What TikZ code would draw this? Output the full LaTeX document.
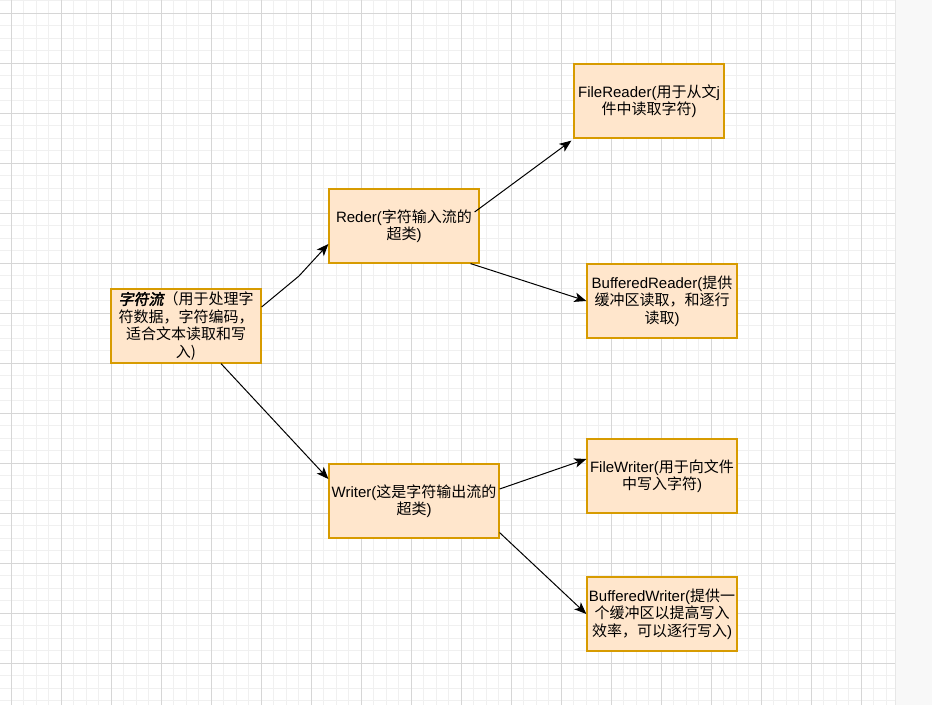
\documentclass[tikz,border=0pt]{standalone}
\usepackage{fontspec}
\setmainfont{Liberation Sans}
\newfontfamily\cjk{Noto Sans CJK SC}
\newfontfamily\cjkbi[FakeSlant=0.2,FakeBold=2.5]{Noto Sans CJK SC}
\usetikzlibrary{arrows.meta}
\definecolor{boxfill}{HTML}{FFE6CC}
\definecolor{boxline}{HTML}{D79B00}
\definecolor{gridminor}{HTML}{F0F0F0}
\definecolor{gridmajor}{HTML}{D6D6D6}
\definecolor{panelgray}{HTML}{F8F8F8}
\newcommand\zh[1]{{\cjk #1}}

\begin{document}
\begin{tikzpicture}[x=1pt, y=-1pt,
    classbox/.style={draw=boxline, fill=boxfill, line width=1.2pt, minimum width=150pt,
        minimum height=74pt, align=center, inner sep=2pt, font=\fontsize{15}{17.5}\selectfont},
    link/.style={line width=1pt, -{Stealth[length=12pt,width=9.5pt,inset=3pt]}}]
\useasboundingbox (0,0) rectangle (932,705);
% Background grid
\fill[white] (0,0) rectangle (895,705);
\foreach \x in {-1.5,11,...,895} {
    \draw[gridminor] (\x,0) -- (\x,705);
}
\foreach \y in {0.5,13,...,705} {
    \draw[gridminor] (0,\y) -- (895,\y);
}
\foreach \x in {11,61,...,895} {
    \draw[gridmajor] (\x,0) -- (\x,705);
}
\foreach \y in {13,63,...,705} {
    \draw[gridmajor] (0,\y) -- (895,\y);
}
\fill[panelgray] (896,0) rectangle (932,705);
\draw[gridmajor!60] (895.5,0) -- (895.5,705);

% Boxes
\node[classbox] (stream) at (186,326) {{\cjkbi 字符流}\zh{（用于处理字}\\\zh{符数据，字符编码，}\\\zh{适合文本读取和写}\\\zh{入)}};
\node[classbox] (reader) at (404,226) {Reder(\zh{字符输入流的}\\\zh{超类})};
\node[classbox, minimum width=170pt] (writer) at (414,501) {Writer(\zh{这是字符输出流的}\\\zh{超类})};
\node[classbox] (filereader) at (649,101) {FileReader(\zh{用于从文}j\\\zh{件中读取字符})};
\node[classbox] (bufreader) at (662,301) {BufferedReader(\zh{提供}\\\zh{缓冲区读取，和逐行}\\\zh{读取})};
\node[classbox] (filewriter) at (662,476) {FileWriter(\zh{用于向文件}\\\zh{中写入字符})};
\node[classbox] (bufwriter) at (662,614) {BufferedWriter(\zh{提供一}\\\zh{个缓冲区以提高写入}\\\zh{效率，可以逐行写入})};

% Connectors
\coordinate (bend) at (299,276);
\draw[link] ([yshift=19pt]stream.east) -- (bend) -- ([yshift=-18pt]reader.west);
\draw[link] ([xshift=35pt]stream.south) -- ([yshift=22pt]writer.west);
\draw[link] ([xshift=-5pt,yshift=14pt]reader.east) -- ([xshift=-2pt,yshift=-2pt]filereader.south west);
\draw[link] ([xshift=-9pt]reader.south east) -- (bufreader.west);
\draw[link] ([yshift=12pt]writer.east) -- ([yshift=17pt]filewriter.west);
\draw[link] ([yshift=6pt]writer.south east) -- (bufwriter.west);
\end{tikzpicture}
\end{document}
